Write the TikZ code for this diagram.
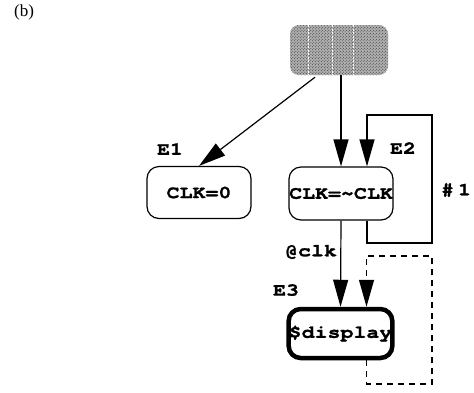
\documentclass[tikz,border=0pt]{standalone}
\usepackage{fontspec}
\setmainfont{Liberation Serif}
\newfontfamily\cour{texgyrecursor-bold.otf}[FakeStretch=1.2,FakeBold=1.2]
\usetikzlibrary{arrows.meta,patterns,calc}
\begin{document}
\begin{tikzpicture}[x=1bp,y=-1bp,
  mono/.style={font=\cour\fontsize{18bp}{20bp}\selectfont},
  box/.style={mono, draw, line width=1.2bp, rounded corners=12bp, minimum width=104bp, minimum height=52bp, inner sep=0pt},
  arr/.style={line width=1.2bp, -{Triangle[length=27bp,width=15bp]}},
  lab/.style={mono, inner sep=0pt}]
\useasboundingbox (0,0) rectangle (474,392);
\node[font=\fontsize{17bp}{19bp}\selectfont, inner sep=0pt] (b) at (24,12) {(b)};
% source node
\node[minimum width=98bp, minimum height=50bp, inner sep=0pt, rounded corners=9bp, fill=gray!62,
      postaction={pattern=crosshatch dots, pattern color=black!80}] (src) at (339,50) {};
\draw[white, line width=1bp, dash pattern=on 2bp off 1.5bp] (308,25) -- (308,75);
\draw[white, line width=1bp, dash pattern=on 2bp off 1.5bp] (332,25) -- (332,75);
\draw[white, line width=1bp, dash pattern=on 2bp off 1.5bp] (353,25) -- (353,75);
% nodes
\node[box] (e1) at (199,192.5) {CLK=0};
\node[box, minimum height=53bp] (clk) at (341,193.5) {CLK=\textasciitilde CLK};
\node[box, line width=4.5bp, minimum width=101bp, minimum height=49bp] (disp) at (340.5,333.5) {\$display};
% labels
\node[lab] (le1) at (170,149) {E1};
\node[lab] (le2) at (403,148) {E2};
\node[lab] (lh) at (456,190) {\#\hspace{4bp}1};
\node[lab] (lclk) at (311,252) {@clk};
\node[lab] (le3) at (286,290) {E3};
% connectors
\draw[arr] ($(src.south)+(-24,2)$) -- (e1.north);
\draw[arr] (clk.north |- src.south) -- (clk.north);
\coordinate (l1) at (432,243);
\coordinate (l2) at (432,115);
\draw[arr] ($(clk.south)+(26,0)$) |- (l1) -- (l2) -| ($(clk.north)+(26,0)$);
\draw[arr] (clk.south) -- (disp.north);
\coordinate (d1) at (432,384);
\coordinate (d2) at (432,256);
\draw[arr, dash pattern=on 6bp off 5bp] ($(disp.south)+(26,0)$) |- (d1) -- (d2) -| ($(disp.north)+(26,0)$);
\end{tikzpicture}
\end{document}
